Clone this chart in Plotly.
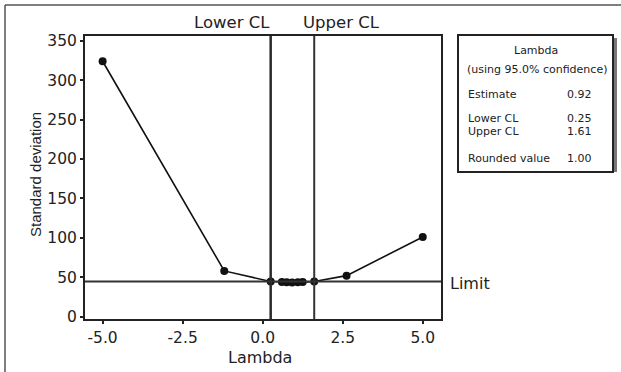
import plotly.graph_objects as go

# Data
lam = [-5.0, -1.2, 0.25, 0.6, 0.75, 0.92, 1.1, 1.25, 1.61, 2.62, 5.0]
sd = [324, 58, 44.5, 43.8, 43.5, 43.3, 43.5, 43.8, 44.5, 52, 101]
lower_cl = 0.25
upper_cl = 1.61
limit = 44.7
x_ticks = [-5.0, -2.5, 0.0, 2.5, 5.0]
x_ticktext = ["-5.0", "-2.5", "0.0", "2.5", "5.0"]
y_ticks = [0, 50, 100, 150, 200, 250, 300, 350]
box_labels = ["Estimate", "Lower CL", "Upper CL", "Rounded value"]
box_values = ["0.92", "0.25", "1.61", "1.00"]

W, H = 621, 372
L, R, T, B = 85, 441, 36, 319  # plot area in pixels


def px(x):
    return (x - L) / (R - L)


def py(y):
    return (B - y) / (B - T)


FONT = "DejaVu Sans"
fig = go.Figure()
fig.add_trace(go.Scatter(
    x=lam, y=sd, mode="lines+markers",
    line=dict(color="#111", width=1.6),
    marker=dict(color="#111", size=8),
    showlegend=False, hoverinfo="skip"))

shapes = []
shapes.append(dict(type="line", xref="x", yref="paper", x0=lower_cl, x1=lower_cl, y0=0, y1=1,
                   line=dict(color="#2a2a2a", width=2.5)))
shapes.append(dict(type="line", xref="x", yref="paper", x0=upper_cl, x1=upper_cl, y0=0, y1=1,
                   line=dict(color="#333", width=2)))
shapes.append(dict(type="line", xref="paper", yref="y", x0=0, x1=1, y0=limit, y1=limit,
                   line=dict(color="#333", width=2)))
# outer frame (left/top)
shapes.append(dict(type="line", xref="paper", yref="paper", x0=px(5), x1=px(5), y0=py(5), y1=py(380),
                   line=dict(color="#555", width=1.5)))
shapes.append(dict(type="line", xref="paper", yref="paper", x0=px(5), x1=px(640), y0=py(5), y1=py(5),
                   line=dict(color="#555", width=1.5)))
# info box shadow + box
shapes.append(dict(type="rect", xref="paper", yref="paper", x0=px(612), x1=px(617), y0=py(172), y1=py(38),
                   fillcolor="#777", line=dict(width=0)))
shapes.append(dict(type="rect", xref="paper", yref="paper", x0=px(458), x1=px(613), y0=py(172), y1=py(35),
                   fillcolor="white", line=dict(color="#222", width=2)))


def A(text, x, y, xa="center", font=None, **kw):
    return dict(text=text, x=px(x), y=py(y), xref="paper", yref="paper", showarrow=False,
                xanchor=xa, yanchor="middle", font=font, **kw)


mf = dict(family=FONT, size=16.5, color="#222")
ann = [
    A("Lower CL", 232, 22, font=mf),
    A("Upper CL", 341, 22, font=mf),
    A("Limit", 448, 283, xa="left", font=dict(family=FONT, size=16, color="#222")),
    A("Standard deviation", 35, 175, font=dict(family="Liberation Sans", size=15, color="#222"),
      textangle=-90),
    A("Lambda", 260, 357, font=dict(family=FONT, size=16, color="#222")),
]
bf = dict(family=FONT, size=11, color="#222")
ann.append(A("Lambda", 536, 50, font=bf))
ann.append(A("(using 95.0% confidence)", 537, 69, font=bf))
for lab, val, yy in zip(box_labels, box_values, [94, 119, 131, 158]):
    ann.append(A(lab, 466, yy, xa="left", font=bf))
    ann.append(A(val, 594, yy, xa="right", font=bf))

tf = dict(family=FONT, size=15.5, color="#222")
fig.update_layout(
    width=W, height=H, margin=dict(l=L, r=W - R, t=T, b=H - B),
    paper_bgcolor="white", plot_bgcolor="white",
    shapes=shapes, annotations=ann,
    xaxis=dict(range=[-5.55, 5.57], tickvals=x_ticks, ticktext=x_ticktext,
               showline=True, mirror=True, linecolor="#222", linewidth=2,
               ticks="outside", ticklen=3, tickwidth=2, tickcolor="#222",
               showgrid=False, zeroline=False, tickfont=tf),
    yaxis=dict(range=[-3, 356], tickvals=y_ticks,
               showline=True, mirror=True, linecolor="#222", linewidth=2,
               ticks="outside", ticklen=3, tickwidth=2, tickcolor="#222",
               showgrid=False, zeroline=False, tickfont=tf),
)
fig.write_html("out.html")
